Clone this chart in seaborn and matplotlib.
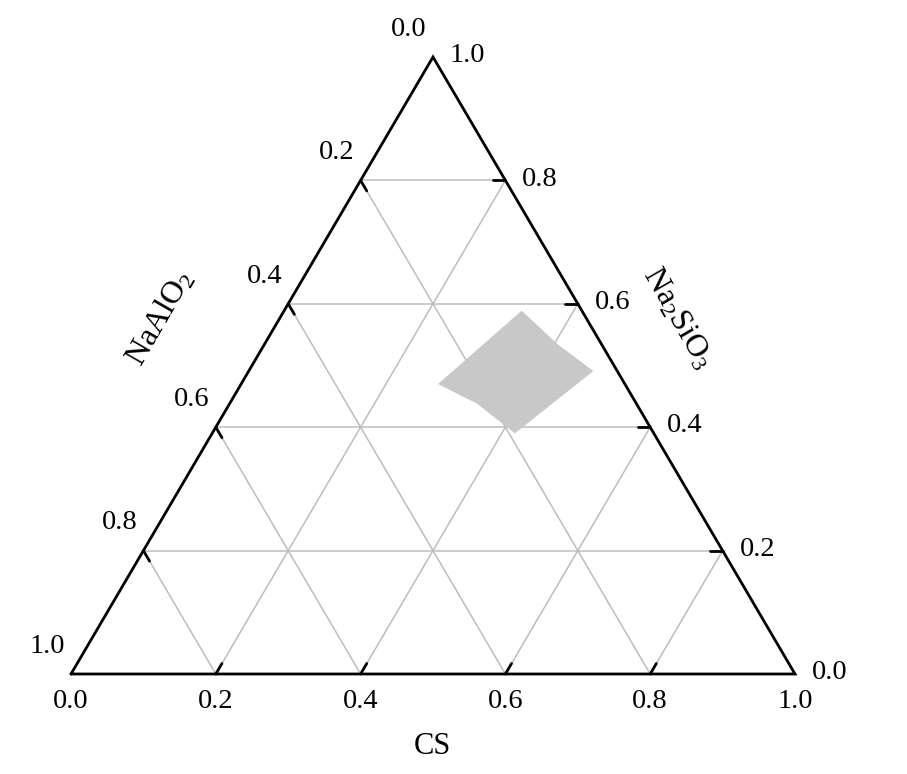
import numpy as np
import pandas as pd
import matplotlib.pyplot as plt
import seaborn as sns

# ternary data: CS (bottom), NaAlO2 (left), Na2SiO3 (right)
grid_vals = [0.2, 0.4, 0.6, 0.8]
tick_vals = [0.0, 0.2, 0.4, 0.6, 0.8, 1.0]
tick_labels = ['0.0', '0.2', '0.4', '0.6', '0.8', '1.0']

# shaded region given as CS and Na2SiO3 fractions (NaAlO2 = rest)
region_cs = [0.328, 0.404, 0.476, 0.418, 0.342, 0.272]
region_si = [0.589, 0.535, 0.491, 0.390, 0.438, 0.470]


def to_xy(cs, si):
    # ternary -> cartesian (x along CS edge, y as Na2SiO3 height)
    cs = np.asarray(cs, dtype=float)
    si = np.asarray(si, dtype=float)
    return cs + si / 2.0, si


def pt(cs, si):
    x, y = to_xy(cs, si)
    return float(x), float(y)


sns.set_style('white')
plt.rcParams['font.family'] = ['Liberation Serif', 'DejaVu Serif']
plt.rcParams['mathtext.fontset'] = 'custom'
plt.rcParams['mathtext.rm'] = 'Liberation Serif'
plt.rcParams['mathtext.it'] = 'Liberation Serif:italic'
plt.rcParams['text.color'] = 'black'

fig = plt.figure(figsize=(9.07, 7.74), dpi=100)
ax = fig.add_axes([0, 0, 1, 1])

# grid lines (one segment per constant value of each component)
rows = []
seg = 0
for v in grid_vals:
    # constant Na2SiO3 (horizontal)
    for cs, si in [(0, v), (1 - v, v)]:
        rows.append((seg, *pt(cs, si)))
    seg += 1
    # constant CS
    for cs, si in [(v, 0), (v, 1 - v)]:
        rows.append((seg, *pt(cs, si)))
    seg += 1
    # constant NaAlO2
    for cs, si in [(0, 1 - v), (1 - v, 0)]:
        rows.append((seg, *pt(cs, si)))
    seg += 1
grid = pd.DataFrame(rows, columns=['seg', 'x', 'y'])
sns.lineplot(data=grid, x='x', y='y', units='seg', estimator=None, sort=False,
             color='#bdbdbd', lw=1.1, ax=ax)

# shaded region
rx, ry = to_xy(region_cs, region_si)
ax.fill(rx, ry, color='#c8c8c8', lw=0, zorder=3)

# triangle outline
tx, ty = to_xy([0, 1, 0, 0], [0, 0, 1, 0])
ax.plot(tx, ty, color='black', lw=2.0, zorder=4, solid_joinstyle='miter')

tl = 0.017
fs = 20.5
for v, lab in zip(tick_vals, tick_labels):
    # bottom axis CS
    x0, y0 = pt(v, 0)
    x1, y1 = pt(v, tl)
    if 0 < v < 1:
        ax.plot([x0, x1], [y0, y1], color='black', lw=2, zorder=4)
    ax.text(x0, y0 - 0.045, lab, ha='center', va='center', fontsize=fs)
    # right axis Na2SiO3
    x0, y0 = pt(1 - v, v)
    x1, y1 = pt(1 - v - tl, v)
    if 0 < v < 1:
        ax.plot([x0, x1], [y0, y1], color='black', lw=2, zorder=4)
    ax.text(x0 + 0.048, y0 + 0.002, lab, ha='center', va='center', fontsize=fs)
    # left axis NaAlO2
    x0, y0 = pt(0, 1 - v)
    x1, y1 = pt(tl, 1 - v - tl)
    if 0 < v < 1:
        ax.plot([x0, x1], [y0, y1], color='black', lw=2, zorder=4)
    ax.text(x0 - 0.033, y0 + 0.045, lab, ha='center', va='center', fontsize=fs)

ax.text(0.4986, -0.118, 'CS', ha='center', va='center', fontsize=22)
ax.text(0.123, 0.577, r'NaAlO$_2$', ha='center', va='center', fontsize=23,
        rotation=60, rotation_mode='anchor')
ax.text(0.838, 0.577, r'Na$_2$SiO$_3$', ha='center', va='center', fontsize=23,
        rotation=-60, rotation_mode='anchor')

ax.set_xlim(-71 / 724, (907 - 71) / 724)
ax.set_ylim((674 - 774) / 617, 674 / 617)
ax.set_axis_off()
if ax.get_legend():
    ax.get_legend().remove()

fig.savefig('out.png', dpi=100)
